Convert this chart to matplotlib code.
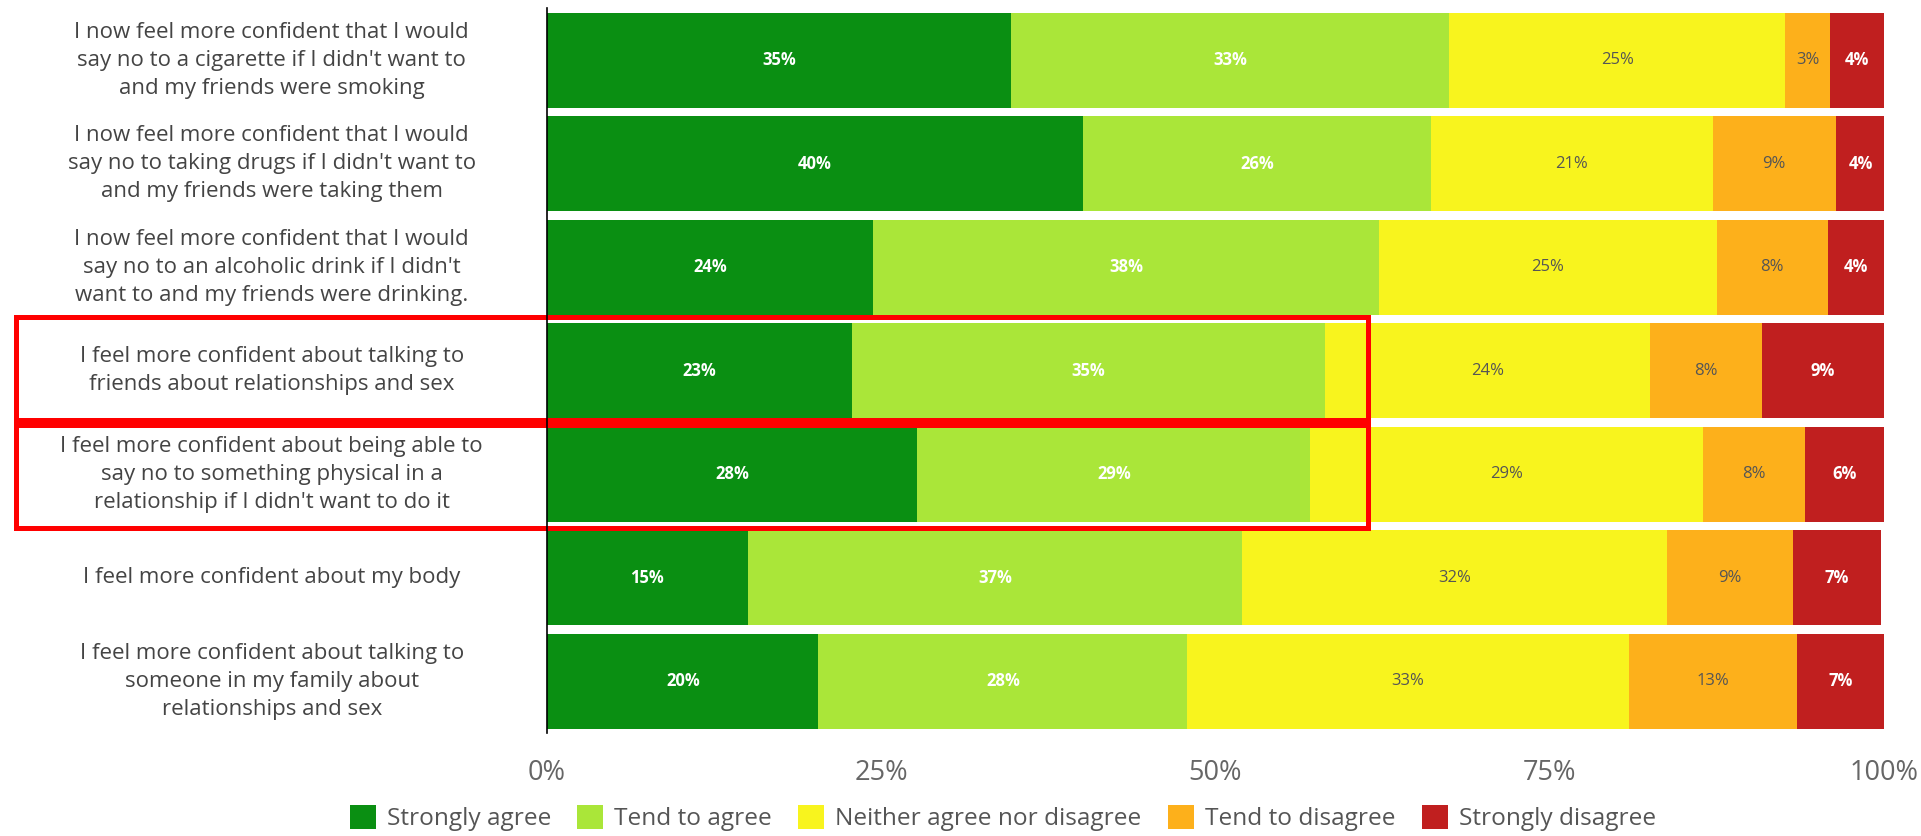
import matplotlib.pyplot as plt
from matplotlib.patches import Rectangle
import numpy as np

plt.rcParams['font.family'] = ['Open Sans', 'DejaVu Sans']

# statements, top to bottom
questions = [
    "I now feel more confident that I would\nsay no to a cigarette if I didn't want to\nand my friends were smoking",
    "I now feel more confident that I would\nsay no to taking drugs if I didn't want to\nand my friends were taking them",
    "I now feel more confident that I would\nsay no to an alcoholic drink if I didn't\nwant to and my friends were drinking.",
    "I feel more confident about talking to\nfriends about relationships and sex",
    "I feel more confident about being able to\nsay no to something physical in a\nrelationship if I didn't want to do it",
    "I feel more confident about my body",
    "I feel more confident about talking to\nsomeone in my family about\nrelationships and sex",
]

answers = ["Strongly agree", "Tend to agree", "Neither agree nor disagree",
           "Tend to disagree", "Strongly disagree"]

# percentages per answer (one value per statement)
strongly_agree = [34.7, 40.1, 24.4, 22.8, 27.7, 15.0, 20.3]
tend_agree = [32.8, 26.0, 37.8, 35.4, 29.4, 37.0, 27.6]
neither = [25.1, 21.1, 25.3, 24.3, 29.4, 31.8, 33.0]
tend_disagree = [3.4, 9.2, 8.3, 8.4, 7.6, 9.4, 12.6]
strongly_disagree = [4.0, 3.7, 4.2, 9.1, 5.9, 6.6, 6.6]

series = [strongly_agree, tend_agree, neither, tend_disagree, strongly_disagree]
colors = ["#0a8f12", "#aae639", "#f8f41e", "#fdb01b", "#c01f1f"]
text_colors = ["white", "white", "#555555", "#555555", "white"]
text_weights = ["bold", "bold", "normal", "normal", "bold"]

# statements highlighted with a red box
highlighted = [3, 4]

fig = plt.figure(figsize=(19.21, 8.36), dpi=100)
ax = fig.add_axes([0.2848, 0.1232, 0.6959, 0.8668])

y = np.arange(len(questions))
left = np.zeros(len(questions))
for vals, col, tcol, tw, name in zip(series, colors, text_colors, text_weights, answers):
    vals = np.array(vals)
    ax.barh(y, vals, left=left, height=0.92, color=col, label=name,
            edgecolor='none')
    for yi, v, l in zip(y, vals, left):
        ax.text(l + v / 2, yi, f"{int(v + 0.5)}%", ha='center', va='center',
                color=tcol, fontsize=12, fontweight=tw)
    left += vals

ax.set_xlim(0, 100)
ax.set_ylim(len(questions) - 0.5, -0.5)
ax.set_xticks([0, 25, 50, 75, 100])
ax.set_xticklabels(["0%", "25%", "50%", "75%", "100%"])
ax.tick_params(axis='x', length=0, pad=19, labelsize=19.5, labelcolor='#666666')
ax.set_yticks([])
for s in ['top', 'right', 'bottom']:
    ax.spines[s].set_visible(False)
ax.spines['left'].set_linewidth(1.2)
ax.spines['left'].set_color('black')

# statement labels, centred in the left margin
for yi, q in zip(y, questions):
    ax.text(-20.6, yi, q, ha='center', va='center', fontsize=16,
            color='#444444', linespacing=1.44, multialignment='center')

# red highlight boxes
for h in highlighted:
    ax.add_patch(Rectangle((-39.7, h - 0.52), 101.1, 1.04, fill=False,
                           edgecolor='red', linewidth=3.6, clip_on=False))

fig.legend(loc='center', bbox_to_anchor=(0.522, 0.0215), ncol=5, frameon=False,
           fontsize=17.6, handlelength=1.07, handleheight=1.15, columnspacing=1.07,
           handletextpad=0.45, labelcolor='#555555')

fig.savefig('out.png', dpi=100)
